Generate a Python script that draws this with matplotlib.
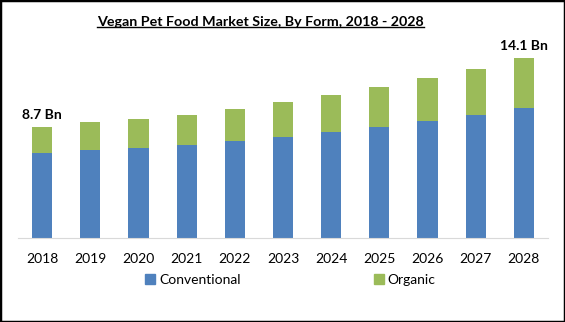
import matplotlib
matplotlib.use('Agg')
from matplotlib import pyplot as plt
from matplotlib.lines import Line2D
from matplotlib.patches import Rectangle
import numpy as np

years = ['2018', '2019', '2020', '2021', '2022', '2023', '2024', '2025', '2026', '2027', '2028']
conventional = [6.62, 6.85, 7.0, 7.24, 7.58, 7.89, 8.28, 8.67, 9.14, 9.59, 10.13]
organic = [2.08, 2.2, 2.27, 2.35, 2.47, 2.71, 2.87, 3.13, 3.34, 3.59, 3.97]
end_labels = {0: '8.7 Bn', 10: '14.1 Bn'}

blue = '#4F81BD'
green = '#9BBB59'
plt.rcParams['font.family'] = ['Lato', 'DejaVu Sans']

fig = plt.figure(figsize=(5.65, 3.22), dpi=100)
ax = fig.add_axes([18 / 565, 84 / 322, 530 / 565, 198 / 322])

x = np.arange(len(years))
ax.bar(x, conventional, width=0.42, color=blue, label='Conventional')
ax.bar(x, organic, width=0.42, bottom=conventional, color=green, label='Organic')

for i, txt in end_labels.items():
    total = conventional[i] + organic[i]
    ax.text(x[i], total + 0.45, txt, ha='center', va='bottom', fontsize=10, fontweight='bold')

ax.set_xlim(-0.5, len(years) - 0.5)
ax.set_ylim(0, 198 / 12.8)
ax.set_xticks(x)
ax.set_xticklabels(years, fontsize=10)
ax.tick_params(axis='x', length=0, pad=11)
ax.set_yticks([])
for s in ['top', 'right', 'left']:
    ax.spines[s].set_visible(False)
ax.spines['bottom'].set_color('#D9D9D9')

# legend
handles = [Rectangle((0, 0), 1, 1, color=blue), Rectangle((0, 0), 1, 1, color=green)]
fig.legend(handles, ['Conventional', 'Organic'], loc='center', bbox_to_anchor=(0.514, 1 - 280 / 322),
           ncol=2, frameon=False, fontsize=10, handlelength=0.7, handleheight=0.7,
           handletextpad=0.3, columnspacing=9.6)

# title with underline
title = fig.text(0.461, 1 - 22 / 322, 'Vegan Pet Food Market Size, By Form, 2018 - 2028',
                 ha='center', va='center', fontsize=10.3, fontweight='bold')
fig.canvas.draw()
bb = title.get_window_extent().transformed(fig.transFigure.inverted())
fig.add_artist(Line2D([bb.x0, bb.x1], [bb.y0 + 0.003, bb.y0 + 0.003], color='black', lw=1))

# outer border
fig.add_artist(Rectangle((0, 0), 1, 1, transform=fig.transFigure, fill=False,
                         edgecolor='black', lw=2.5))

fig.savefig('out.png', dpi=100)
